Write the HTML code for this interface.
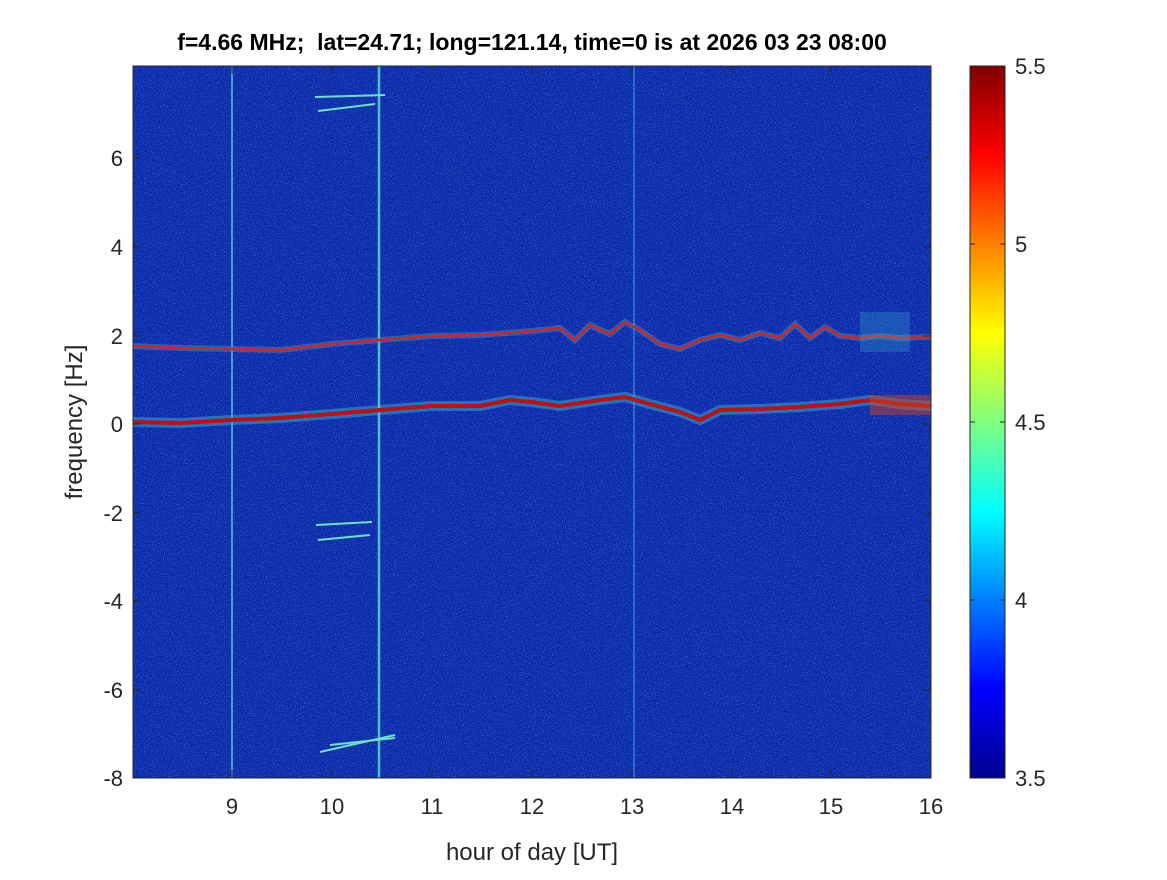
<!DOCTYPE html>
<html><head><style>
body{margin:0;background:#fff;}
svg text{font-family:"Liberation Sans",sans-serif;}
</style></head><body>
<svg width="1167" height="875" viewBox="0 0 1167 875">
<defs>
<linearGradient id="jet" x1="0" y1="1" x2="0" y2="0">
<stop offset="0" stop-color="#00008f"/>
<stop offset="0.125" stop-color="#0000ff"/>
<stop offset="0.375" stop-color="#00ffff"/>
<stop offset="0.625" stop-color="#ffff00"/>
<stop offset="0.875" stop-color="#ff0000"/>
<stop offset="1" stop-color="#800000"/>
</linearGradient>
<filter id="nz" x="0" y="0" width="100%" height="100%">
<feTurbulence type="fractalNoise" baseFrequency="0.9" numOctaves="1" seed="3" result="t"/>
<feColorMatrix in="t" type="matrix" values="0 0 0 0 0.1  0 0 0 0 0.35  0 0 0 0 0.95  0 0 0 2.2 -1.1"/>
</filter>
</defs>
<rect x="133" y="66" width="798" height="712" fill="#0d2aa8"/>
<rect x="133" y="66" width="798" height="712" filter="url(#nz)" opacity="0.8"/>
<line x1="232" y1="66" x2="232" y2="778" stroke="#4fd0e0" stroke-width="2" opacity="0.7"/>
<line x1="379" y1="66" x2="379" y2="778" stroke="#5fe0d8" stroke-width="2.5" opacity="0.8"/>
<line x1="634" y1="66" x2="634" y2="778" stroke="#3fb0e8" stroke-width="1.5" opacity="0.6"/>
<polyline fill="none" stroke="#20a0f0" stroke-width="6" opacity="0.45" points="133,346 180,348 232,349 280,350 332,344 380,340 432,336 480,335 532,331 560,328 575,340 590,325 610,334 625,322 640,330 660,344 680,349 700,340 720,335 740,340 760,333 780,338 795,324 810,338 825,327 840,336 860,338 880,336 900,338 931,337"/>
<polyline fill="none" stroke="#e02010" stroke-width="2.5" points="133,346 180,348 232,349 280,350 332,344 380,340 432,336 480,335 532,331 560,328 575,340 590,325 610,334 625,322 640,330 660,344 680,349 700,340 720,335 740,340 760,333 780,338 795,324 810,338 825,327 840,336 860,338 880,336 900,338 931,337"/>
<polyline fill="none" stroke="#30c0e0" stroke-width="10" opacity="0.45" points="133,422 180,423 232,420 280,418 332,414 380,410 432,406 480,406 510,400 532,402 560,406 600,400 625,397 650,404 680,412 700,420 720,410 760,409 800,407 840,404 870,400 900,404 931,406"/>
<polyline fill="none" stroke="#c01008" stroke-width="4" points="133,422 180,423 232,420 280,418 332,414 380,410 432,406 480,406 510,400 532,402 560,406 600,400 625,397 650,404 680,412 700,420 720,410 760,409 800,407 840,404 870,400 900,404 931,406"/>
<rect x="870" y="395" width="61" height="20" fill="#d04020" opacity="0.5"/>
<rect x="860" y="312" width="50" height="40" fill="#40c0d0" opacity="0.25"/>
<g stroke="#70e0c0" stroke-width="2" fill="none">
<path d="M315,97 L385,95"/><path d="M318,111 L375,104"/>
<path d="M316,525 L372,522"/><path d="M318,540 L370,535"/>
<path d="M320,752 L395,735"/><path d="M330,745 L395,738"/>
</g>
<rect x="133" y="66" width="798" height="712" fill="none" stroke="#262626" stroke-width="1"/>
<g stroke="#262626" stroke-width="1">
<path d="M232,778v-8M332,778v-8M432,778v-8M532,778v-8M632,778v-8M732,778v-8M831,778v-8M232,66v8M332,66v8M432,66v8M532,66v8M632,66v8M732,66v8M831,66v8"/>
<path d="M133,158h8M133,247h8M133,336h8M133,424h8M133,513h8M133,601h8M133,690h8M931,158h-8M931,247h-8M931,336h-8M931,424h-8M931,513h-8M931,601h-8M931,690h-8"/>
</g>
<g font-size="22" fill="#262626" text-anchor="middle">
<text x="232" y="814">9</text><text x="332" y="814">10</text><text x="432" y="814">11</text><text x="532" y="814">12</text><text x="632" y="814">13</text><text x="732" y="814">14</text><text x="831" y="814">15</text><text x="931" y="814">16</text>
</g>
<g font-size="22" fill="#262626" text-anchor="end">
<text x="123" y="166">6</text><text x="123" y="255">4</text><text x="123" y="344">2</text><text x="123" y="432">0</text><text x="123" y="521">-2</text><text x="123" y="609">-4</text><text x="123" y="698">-6</text><text x="123" y="786">-8</text>
</g>
<text x="532" y="860" font-size="24" fill="#262626" text-anchor="middle">hour of day [UT]</text>
<text transform="translate(82,422) rotate(-90)" font-size="24" fill="#262626" text-anchor="middle">frequency [Hz]</text>
<text x="532" y="50" font-size="23" font-weight="bold" fill="#000" text-anchor="middle">f=4.66 MHz;&#160; lat=24.71; long=121.14, time=0 is at 2026 03 23 08:00</text>
<rect x="970" y="66" width="35" height="712" fill="url(#jet)" stroke="#262626" stroke-width="1"/>
<g stroke="#262626"><path d="M1005,244h-5M1005,422h-5M1005,600h-5M970,244h5M970,422h5M970,600h5"/></g>
<g font-size="22" fill="#262626">
<text x="1015" y="74">5.5</text><text x="1015" y="252">5</text><text x="1015" y="430">4.5</text><text x="1015" y="608">4</text><text x="1015" y="786">3.5</text>
</g>
</svg>
</body></html>
